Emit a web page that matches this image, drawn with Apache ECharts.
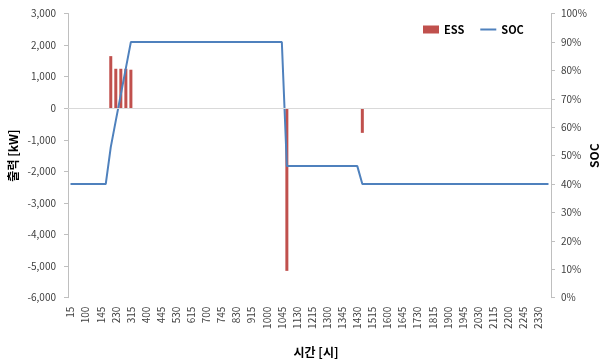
<!DOCTYPE html>
<html>
<head>
<meta charset="utf-8">
<script src="https://cdn.jsdelivr.net/npm/echarts@6/dist/echarts.min.js"></script>
<style>
html,body{margin:0;padding:0;background:#fff;}
#chart{width:600px;height:361px;}
</style>
</head>
<body>
<div id="chart"></div>
<script>
var categories = [
"15","30","45","100","115","130","145","200","215","230","245","300",
"315","330","345","400","415","430","445","500","515","530","545","600",
"615","630","645","700","715","730","745","800","815","830","845","900",
"915","930","945","1000","1015","1030","1045","1100","1115","1130","1145","1200",
"1215","1230","1245","1300","1315","1330","1345","1400","1415","1430","1445","1500",
"1515","1530","1545","1600","1615","1630","1645","1700","1715","1730","1745","1800",
"1815","1830","1845","1900","1915","1930","1945","2000","2015","2030","2045","2100",
"2115","2130","2145","2200","2215","2230","2245","2300","2315","2330","2345","2400"
];

// ESS output [kW] (null = no bar)
var essValues = [
null,null,null,null,null,null,null,null,1650,1250,1250,1250,
1220,null,null,null,null,null,null,null,null,null,null,null,
null,null,null,null,null,null,null,null,null,null,null,null,
null,null,null,null,null,null,null,-5150,null,null,null,null,
null,null,null,null,null,null,null,null,null,null,-780,null,
null,null,null,null,null,null,null,null,null,null,null,null,
null,null,null,null,null,null,null,null,null,null,null,null,
null,null,null,null,null,null,null,null,null,null,null,null
];

// SOC [%]
var socValues = [
40,40,40,40,40,40,40,40,53,62.3,71.5,80.8,
90,90,90,90,90,90,90,90,90,90,90,90,
90,90,90,90,90,90,90,90,90,90,90,90,
90,90,90,90,90,90,90,46.3,46.3,46.3,46.3,46.3,
46.3,46.3,46.3,46.3,46.3,46.3,46.3,46.3,46.3,46.3,40,40,
40,40,40,40,40,40,40,40,40,40,40,40,
40,40,40,40,40,40,40,40,40,40,40,40,
40,40,40,40,40,40,40,40,40,40,40,40
];

var leftTicks = {min: -6000, max: 3000, interval: 1000};
var rightTicks = {min: 0, max: 100, interval: 10};

var FONT = 'Noto Sans CJK KR';
var labelColor = '#404040';
var axisColor = '#bfbfbf';

function commas(v){
  var s = String(Math.abs(v)).replace(/\B(?=(\d{3})+(?!\d))/g, ',');
  return (v < 0 ? '-' : '') + s;
}

var chart = echarts.init(document.getElementById('chart'), null, {renderer:'canvas'});
chart.setOption({
  animation: false,
  backgroundColor: '#ffffff',
  textStyle: {fontFamily: FONT},
  grid: {left: 68, right: 49, top: 13.5, bottom: 63.3, containLabel: false, outerBoundsMode: 'none'},
  legend: {
    data: [
      {name: 'ESS', icon: 'rect'},
      {name: 'SOC', icon: 'path://M0,0 H16 V2 H0 Z'}
    ],
    left: 418, top: 19,
    itemWidth: 16, itemHeight: 8, itemGap: 16,
    symbolKeepAspect: true,
    textStyle: {fontFamily: FONT, fontWeight: 'bold', fontSize: 11, color: '#000'}
  },
  xAxis: {
    type: 'category',
    data: categories,
    boundaryGap: true,
    name: '시간 [시]',
    nameLocation: 'middle',
    nameGap: 49,
    nameMoveOverlap: false,
    nameTextStyle: {fontFamily: FONT, fontWeight: 'bold', fontSize: 12, color: '#000', padding: [0,0,0,13]},
    axisLine: {show: false},
    axisTick: {show: false},
    splitLine: {show: false},
    axisLabel: {interval: 2, rotate: 90, fontSize: 10, color: labelColor, margin: 9, fontFamily: FONT}
  },
  yAxis: [
    {
      type: 'value',
      position: 'left',
      min: leftTicks.min, max: leftTicks.max, interval: leftTicks.interval,
      name: '출력 [kW]',
      nameLocation: 'middle',
      nameGap: 49,
      nameRotate: 90,
      nameMoveOverlap: false,
      nameTextStyle: {fontFamily: FONT, fontWeight: 'bold', fontSize: 12, color: '#000'},
      axisLine: {show: true, lineStyle: {color: axisColor}},
      axisTick: {show: true, length: 4, lineStyle: {color: axisColor}},
      splitLine: {show: false},
      axisLabel: {fontSize: 10, color: labelColor, margin: 12, fontFamily: FONT, formatter: commas}
    },
    {
      type: 'value',
      position: 'right',
      min: rightTicks.min, max: rightTicks.max, interval: rightTicks.interval,
      name: 'SOC',
      nameLocation: 'middle',
      nameGap: 37,
      nameRotate: 90,
      nameMoveOverlap: false,
      nameTextStyle: {fontFamily: FONT, fontWeight: 'bold', fontSize: 12, color: '#000'},
      axisLine: {show: true, lineStyle: {color: axisColor}},
      axisTick: {show: true, length: 4, lineStyle: {color: axisColor}},
      splitLine: {show: false},
      axisLabel: {fontSize: 10, color: labelColor, margin: 10, fontFamily: FONT, formatter: '{value}%'}
    }
  ],
  series: [
    {
      name: 'ESS',
      type: 'bar',
      yAxisIndex: 0,
      data: essValues,
      barWidth: 3,
      itemStyle: {color: '#C0504D'},
      markLine: {
        silent: true,
        symbol: ['none', 'none'],
        label: {show: false},
        lineStyle: {color: '#d9d9d9', width: 1, type: 'solid'},
        data: [{yAxis: 0}]
      },
      z: 2
    },
    {
      name: 'SOC',
      type: 'line',
      yAxisIndex: 1,
      data: socValues,
      symbol: 'none',
      lineStyle: {color: '#4F81BD', width: 2},
      itemStyle: {color: '#4F81BD'},
      z: 3
    }
  ]
});
</script>
</body>
</html>
